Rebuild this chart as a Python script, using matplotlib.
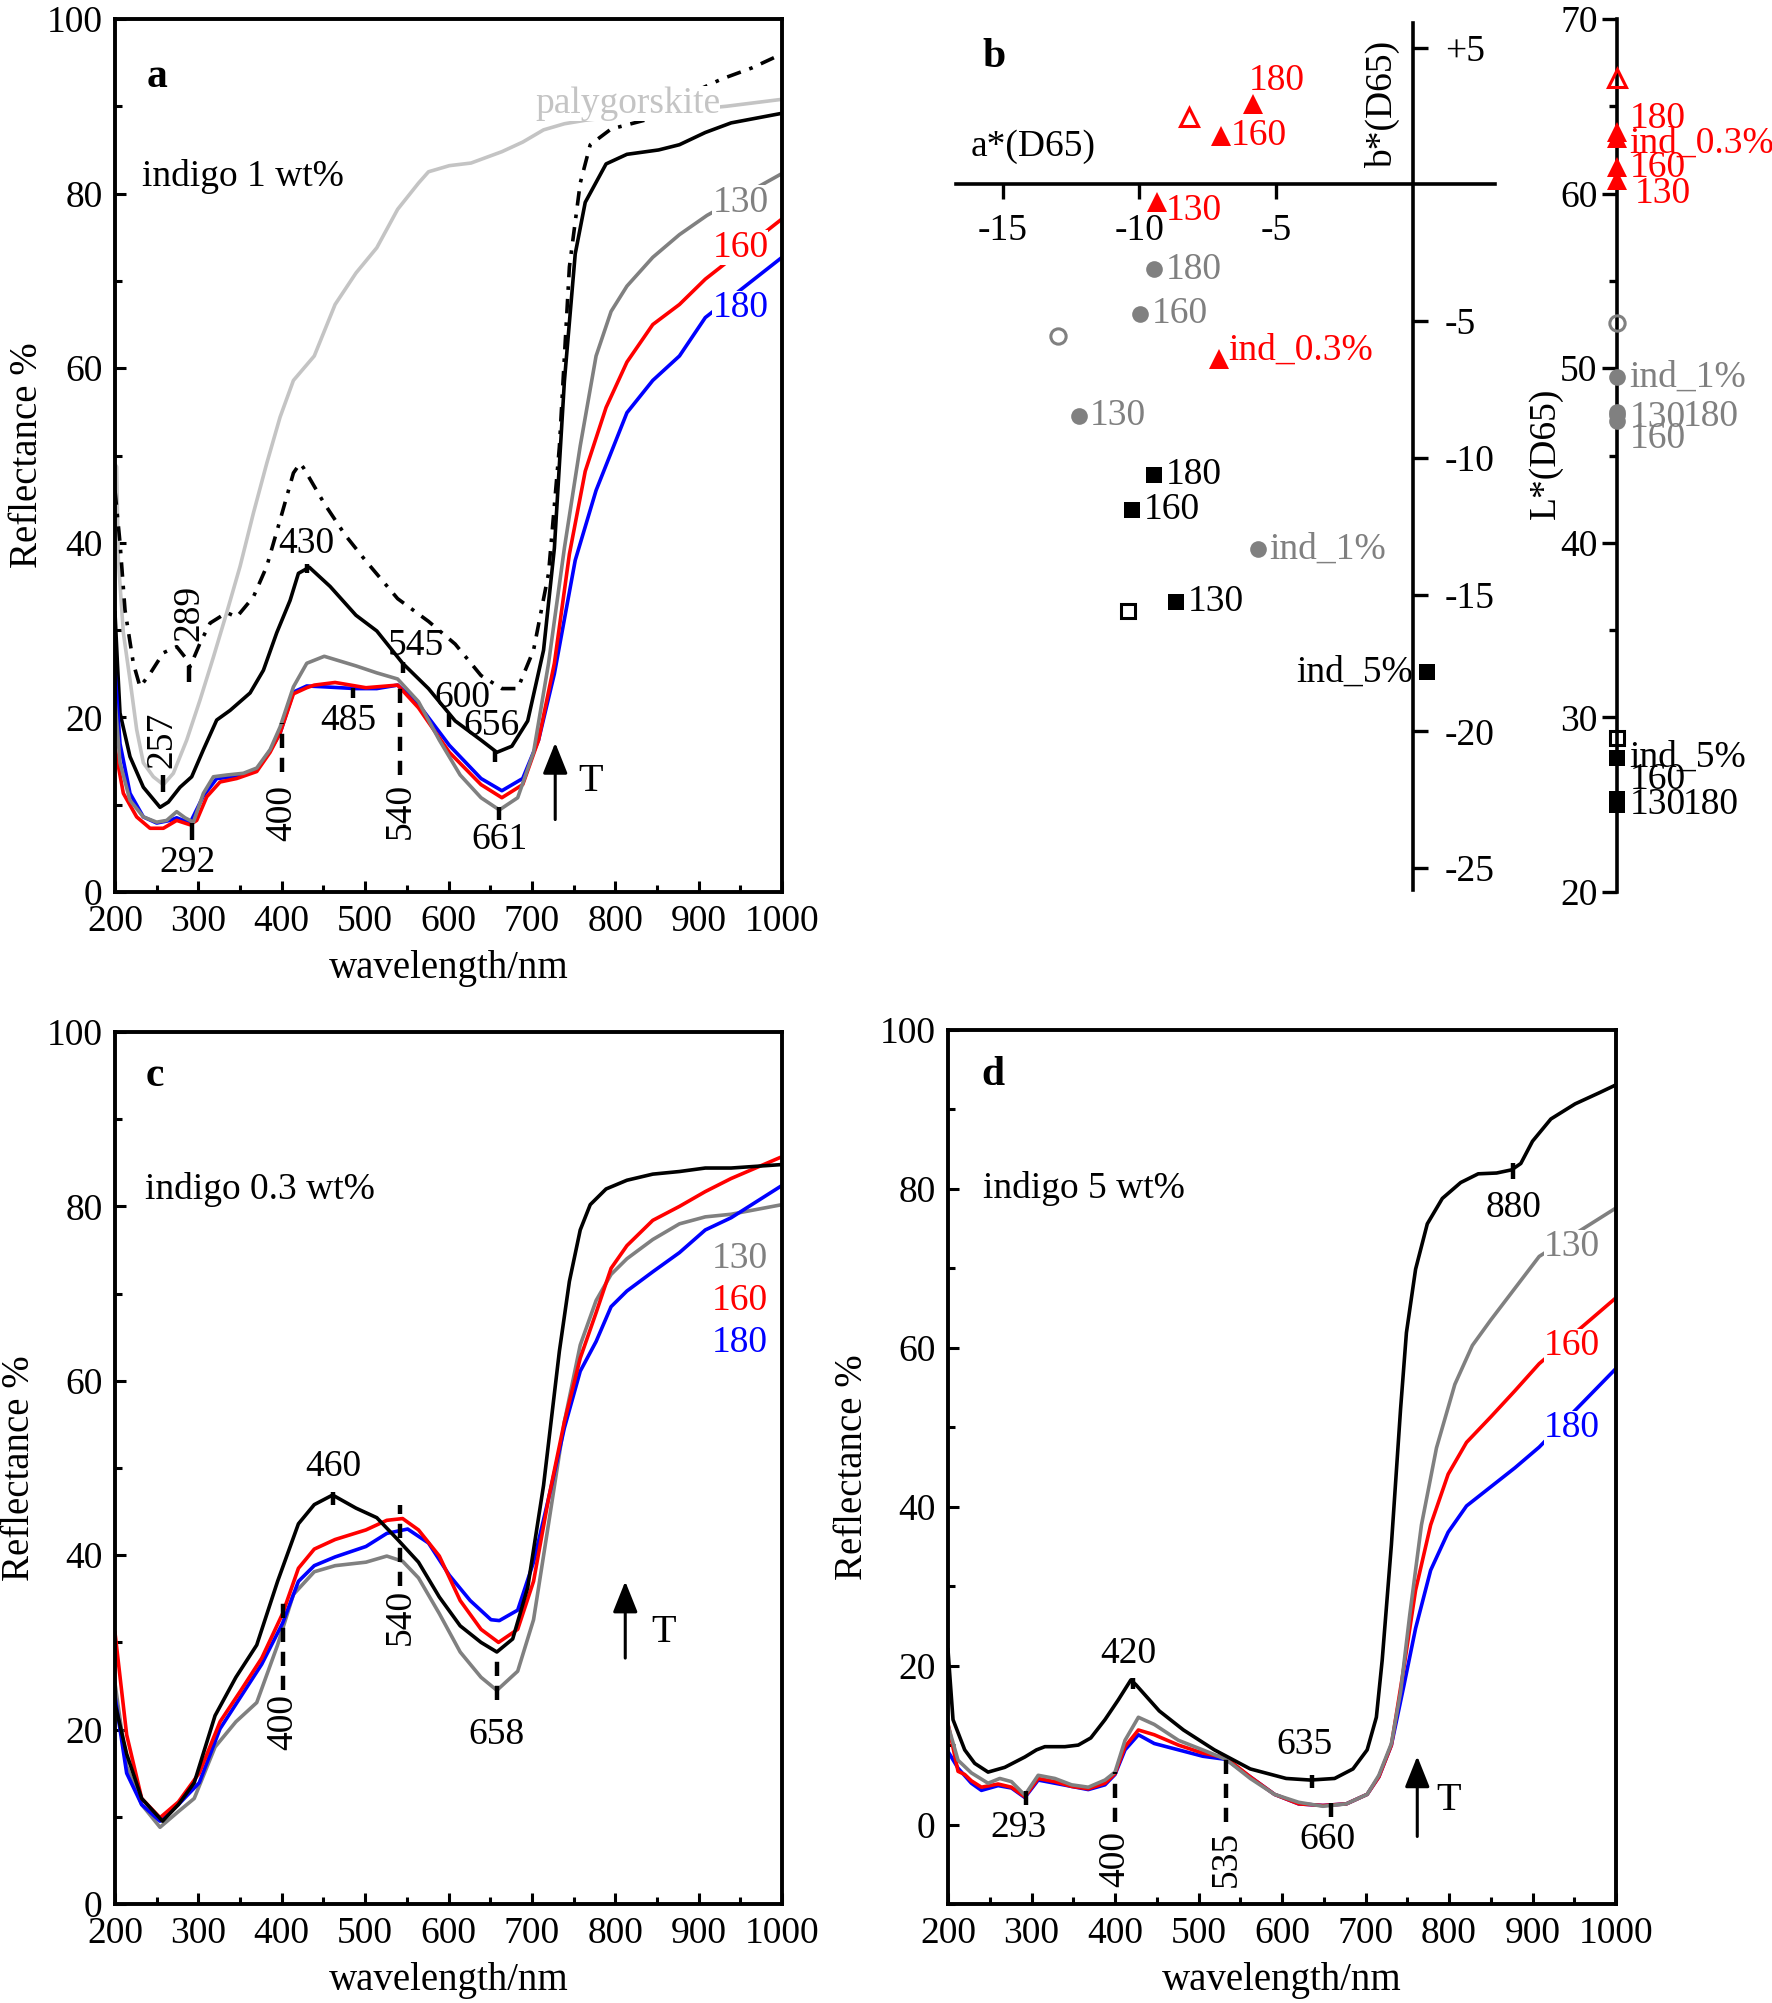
import matplotlib
matplotlib.use("Agg")
import matplotlib.pyplot as plt
from matplotlib.ticker import MultipleLocator, FixedLocator

plt.rcParams["font.family"] = ["Liberation Serif", "DejaVu Serif"]
FS = 27
GREY = "#808080"; LGREY = "#c4c4c4"; RED = "#ff0000"; BLUE = "#0000ff"; BLACK = "#000000"

# ---------------- panel a : indigo 1 wt% ----------------
pal_wl = [200, 202, 204, 210, 218, 226, 234, 246, 258, 270, 286, 302, 318, 334, 350, 366, 382, 398, 414, 439,
          464, 489, 514, 539, 564, 576, 601, 627, 664, 689, 714, 739, 764, 800, 850, 900, 933, 1000]
pal_val = [49.0, 48.7, 38.0, 29.7, 24.3, 18.6, 14.8, 13.2, 12.3, 13.6, 17.4, 22.0, 26.9, 32.0, 37.3, 43.4, 49.1,
           54.4, 58.6, 61.4, 67.3, 70.9, 73.8, 78.2, 81.2, 82.5, 83.2, 83.5, 84.8, 85.9, 87.3, 88.0, 88.4, 88.8,
           89.2, 89.7, 90.0, 90.8]
ind1_wl = [200, 206, 212, 222, 230, 242, 258, 274, 284, 290, 302, 314, 334, 346, 366, 382, 398, 414, 422, 426,
           451, 476, 501, 539, 576, 608, 639, 664, 683, 702, 720, 733, 745, 758, 770, 795, 839, 880, 927, 964, 1000]
ind1_val = [46, 40, 32.3, 26.2, 23.5, 25, 27.4, 28.1, 26.9, 25.8, 28.5, 30.8, 32, 31.5, 33.8, 37.3, 42.6, 48,
            49.1, 48.6, 44.5, 40.9, 37.9, 33.6, 31, 28.4, 24.8, 23.3, 23.3, 27.7, 36.5, 51, 71.6, 81.2, 85.6,
            87.4, 88.5, 91, 93.1, 94.4, 96]
a_blk_wl = [200, 203, 206, 218, 234, 254, 264, 278, 292, 306, 322, 338, 362, 378, 394, 410, 420, 433, 458, 489,
            514, 545, 576, 608, 639, 658, 676, 695, 714, 727, 739, 752, 764, 789, 814, 852, 877, 908, 939, 1000]
a_blk_val = [32, 26, 20.5, 15.5, 12, 9.7, 10.3, 12, 13.2, 16.3, 19.7, 20.8, 22.8, 25.4, 29.7, 33.4, 36.5, 37.2,
             35, 31.7, 29.9, 26.2, 23.3, 19.6, 17.4, 16, 16.7, 19.6, 27.7, 39.4, 58.5, 73.1, 79, 83.4, 84.5, 85,
             85.6, 87, 88.1, 89.2]
a_130_wl = [200, 206, 218, 234, 250, 262, 274, 284, 294, 306, 318, 334, 354, 370, 386, 398, 414, 430, 451, 489,
            514, 539, 564, 589, 614, 639, 661, 683, 702, 720, 739, 758, 777, 795, 814, 845, 877, 910, 1000]
a_130_val = [22, 14.8, 10.5, 8.6, 8, 8.2, 9.2, 8.5, 8, 11.3, 13.2, 13.4, 13.6, 14.2, 16.3, 18.9, 23.5, 26.2, 27,
             25.9, 25.1, 24.4, 21.8, 17.4, 13.4, 10.8, 9.4, 10.8, 16, 26.2, 39.4, 51.1, 61.4, 66.5, 69.4, 72.7,
             75.3, 77.5, 82.3]
a_160_wl = [200, 210, 226, 242, 258, 274, 290, 298, 310, 326, 346, 370, 386, 398, 414, 430, 439, 464, 501, 539,
            564, 601, 639, 664, 689, 708, 727, 745, 764, 789, 814, 845, 877, 908, 1000]
a_160_val = [16.5, 11.3, 8.6, 7.3, 7.3, 8.2, 7.7, 8.2, 10.9, 12.6, 13, 13.8, 16, 18.2, 22.7, 23.4, 23.7, 24, 23.4,
             23.7, 21.1, 16, 12.3, 10.8, 12.3, 17.4, 26.2, 38.7, 48.2, 55.5, 60.7, 65, 67.3, 70.2, 77.1]
a_180_wl = [200, 206, 218, 234, 250, 266, 274, 290, 306, 322, 346, 370, 386, 398, 414, 430, 451, 489, 514, 539,
            564, 601, 639, 664, 689, 708, 727, 752, 777, 814, 845, 877, 908, 1000]
a_180_val = [25.4, 17, 11.3, 8.6, 7.9, 8.2, 8.5, 7.9, 11, 13, 13.2, 14, 16.2, 18.2, 22.9, 23.6, 23.5, 23.3, 23.3,
             23.7, 21.5, 16.8, 13, 11.6, 13, 17.4, 25, 38, 46, 54.9, 58.6, 61.4, 65.8, 72.7]

# ---------------- panel c : indigo 0.3 wt% ----------------
c_blk_wl = [200, 214, 232, 257, 276, 295, 320, 345, 370, 395, 420, 439, 461, 489, 514, 539, 564, 589, 614, 639,
            658, 677, 695, 714, 733, 745, 758, 770, 789, 814, 845, 877, 908, 939, 1000]
c_blk_val = [23, 17.2, 12.1, 9.5, 11.4, 13.9, 21.6, 26, 29.7, 37, 43.6, 45.8, 46.9, 45.4, 44.3, 41.8, 39.2, 35.2,
             31.9, 30, 28.9, 30.4, 36.3, 48, 63.4, 71.4, 77.3, 80.2, 82, 83, 83.7, 84, 84.4, 84.4, 84.8]
c_160_wl = [200, 214, 232, 254, 276, 301, 326, 351, 376, 401, 420, 439, 464, 501, 526, 545, 564, 589, 614, 639,
            660, 683, 702, 720, 739, 758, 777, 795, 814, 845, 877, 908, 939, 1000]
c_160_val = [31.1, 19.4, 12.1, 9.9, 11.7, 15, 20.9, 24.5, 28.2, 33.3, 38.5, 40.7, 41.8, 42.9, 44, 44.2, 42.9, 39.9,
             34.8, 31.5, 30, 31.5, 37, 46.5, 55.3, 62.6, 67.8, 72.9, 75.5, 78.4, 80, 81.7, 83.2, 85.7]
c_180_wl = [200, 214, 232, 254, 276, 301, 326, 351, 376, 401, 420, 439, 464, 501, 526, 551, 576, 601, 626, 651,
            661, 683, 702, 720, 739, 758, 777, 795, 814, 845, 877, 908, 939, 1000]
c_180_val = [23.8, 15, 11.4, 9.5, 11.4, 13.9, 20.1, 23.8, 27.5, 32.2, 37, 38.8, 39.8, 41, 42.5, 43, 41.4, 37.7,
             34.8, 32.6, 32.5, 33.7, 39.2, 46.5, 54.6, 61.1, 64.5, 68.5, 70.3, 72.5, 74.7, 77.3, 78.7, 82.4]
c_130_wl = [200, 214, 232, 254, 276, 295, 320, 345, 370, 395, 414, 439, 464, 501, 526, 545, 564, 589, 614, 639,
            658, 683, 702, 720, 739, 758, 777, 795, 814, 845, 877, 908, 939, 1000]
c_130_val = [25.3, 15.8, 11.4, 8.8, 10.6, 12.1, 18, 20.9, 23.1, 29.7, 35.5, 38.1, 38.8, 39.2, 39.9, 39.3, 37.4,
             33.3, 28.9, 26, 24.5, 26.7, 32.6, 43.6, 55.3, 64.1, 69.2, 72.2, 74, 76.2, 78, 78.8, 79.1, 80.2]

# ---------------- panel d : indigo 5 wt% ----------------
d_blk_wl = [200, 202, 206, 220, 232, 248, 268, 292, 306, 316, 340, 356, 371, 388, 404, 419, 425, 453, 482, 519,
            562, 605, 634, 663, 685, 702, 713, 720, 731, 742, 749, 760, 774, 792, 814, 835, 857, 875, 886, 900,
            922, 951, 980, 1000]
d_blk_val = [22, 19, 13.2, 9.4, 7.7, 6.6, 7.2, 8.5, 9.4, 9.8, 9.8, 10, 10.9, 13.2, 15.7, 18.2, 17.6, 14.3, 11.9,
             9.4, 7, 5.8, 5.6, 5.8, 7, 9.4, 13.5, 20.7, 35.2, 52.3, 61.9, 69.9, 75.6, 78.8, 80.8, 81.9, 82, 82.4,
             83.2, 86, 88.8, 90.7, 92.1, 93.1]
d_130_wl = [200, 212, 228, 248, 262, 276, 292, 308, 328, 348, 368, 388, 400, 412, 428, 447, 476, 505, 533, 562,
            591, 620, 649, 677, 702, 716, 731, 742, 753, 767, 785, 807, 828, 850, 879, 908, 1000]
d_130_val = [12.5, 8.1, 6.5, 5.2, 5.8, 5.4, 3.7, 6.2, 5.8, 5, 4.7, 5.6, 6.6, 10.6, 13.5, 12.6, 10.6, 9.4, 8.2,
             5.8, 3.8, 2.8, 2.3, 2.6, 3.8, 6.2, 10.2, 16.7, 26.4, 37.7, 47.4, 55.4, 60.3, 63.5, 67.5, 71.5, 77.6]
d_160_wl = [200, 212, 220, 228, 240, 260, 276, 292, 308, 328, 348, 368, 388, 400, 412, 428, 447, 476, 505, 533,
            562, 591, 620, 649, 677, 702, 716, 731, 746, 760, 778, 799, 821, 850, 879, 908, 1000]
d_160_val = [12.7, 6.7, 6.3, 5.5, 4.7, 5.1, 4.7, 3.5, 5.8, 5.4, 4.8, 4.5, 5.2, 6.4, 9.8, 11.9, 11.3, 10, 9, 8.4,
             6, 3.8, 2.6, 2.4, 2.6, 3.8, 6, 10, 19.8, 29.5, 37.7, 44.1, 48.1, 51.3, 54.6, 58, 66.3]
d_180_wl = [200, 212, 228, 240, 260, 276, 292, 308, 348, 368, 388, 400, 412, 428, 447, 476, 505, 533, 562, 591,
            620, 649, 677, 702, 716, 731, 746, 760, 778, 799, 821, 850, 879, 908, 1000]
d_180_val = [9.2, 7.1, 5.2, 4.3, 4.9, 4.6, 3.4, 5.6, 4.8, 4.4, 5, 6.3, 9.4, 11.3, 10.2, 9.4, 8.6, 8.2, 6, 3.8,
             2.6, 2.4, 2.6, 3.8, 6, 10, 17.5, 24.7, 32, 36.8, 40.1, 42.5, 44.9, 47.5, 57.4]

# ---------------- panel b : CIELab ----------------
red_lab = ["180", "160", "130", "ind_0.3%"]
red_a = [-5.86, -7.03, -9.34, -7.07]
red_b = [2.93, 1.76, -0.66, -6.37]
red_open_ab = (-8.2, 2.45)
grey_lab = ["180", "160", "130", "ind_1%"]
grey_a = [-9.45, -9.96, -12.2, -5.67]
grey_b = [-3.11, -4.73, -8.46, -13.33]
grey_open_ab = (-12.97, -5.53)
blk_lab = ["180", "160", "130", "ind_5%"]
blk_a = [-9.45, -10.26, -8.65, 0.51]
blk_b = [-10.62, -11.9, -15.27, -17.84]
blk_open_ab = (-10.4, -15.6)
# L* values (same order as labels)
red_L = [63.5, 61.5, 60.8, 63.2]
red_open_L = 66.6
grey_L = [47.3, 47.0, 47.5, 49.5]
grey_open_L = 52.6
blk_L = [25.0, 25.3, 25.0, 27.7]
blk_open_L = 28.8

W, H = 1772, 2003
fig = plt.figure(figsize=(W / 100, H / 100), dpi=100)


def add_px(x0, y0, x1, y1):
    return fig.add_axes([x0 / W, 1 - y1 / H, (x1 - x0) / W, (y1 - y0) / H])


def style_spec(ax, ymin, ylab_x):
    ax.set_xlim(200, 1000)
    ax.set_ylim(ymin, 100)
    ax.xaxis.set_major_locator(MultipleLocator(100))
    ax.xaxis.set_minor_locator(MultipleLocator(50))
    ax.yaxis.set_major_locator(FixedLocator([0, 20, 40, 60, 80, 100]))
    ax.yaxis.set_minor_locator(MultipleLocator(10))
    ax.tick_params(which="both", direction="in", width=2.2, labelsize=FS, top=False, right=False)
    ax.tick_params(which="major", length=8, pad=9)
    ax.tick_params(which="minor", length=5)
    for s in ax.spines.values():
        s.set_linewidth(2.8)
    ax.set_xlabel("wavelength/nm", fontsize=FS + 1)
    ax.set_ylabel("Reflectance %", fontsize=FS + 1)
    ax.xaxis.set_label_coords(0.5, -0.066)
    ax.yaxis.set_label_coords(ylab_x, 0.5)


LW = 2.6
LBOX = dict(facecolor="white", edgecolor="none", pad=0)


def marks(ax, items):
    for x, y0, y1 in items:
        ax.plot([x, x], [y0, y1], color="k", lw=3.2, solid_capstyle="butt", zorder=5)


def dmarks(ax, items):
    for x, y0, y1 in items:
        ax.plot([x, x], [y0, y1], color="k", lw=3.2, ls=(0, (3.2, 2.2)), dash_capstyle="butt", zorder=5)


def texts(ax, items, rot=0):
    for x, y, s in items:
        ax.text(x, y, s, fontsize=FS, ha="center", va="center", rotation=rot, zorder=6)


def t_arrow(ax, x, y0, y1, tx, ty):
    ax.annotate("", xy=(x, y1), xytext=(x, y0),
                arrowprops=dict(arrowstyle="-|>,head_length=0.95,head_width=0.38", mutation_scale=20,
                                lw=2.2, color="k", shrinkA=0, shrinkB=0))
    ax.text(tx, ty, "T", fontsize=FS + 2, ha="center", va="center")


def temp_labels(ax, x, ys):
    for (y, s, c) in ys:
        ax.text(x, y, s, fontsize=FS, color=c, ha="center", va="center", bbox=LBOX, zorder=4)


# ===== panel a =====
axa = add_px(115, 19, 782, 892)
style_spec(axa, 0, -0.103)
axa.plot(pal_wl, pal_val, color=LGREY, lw=LW)
axa.plot(ind1_wl, ind1_val, color=BLACK, lw=LW, ls=(0, (4, 2.5, 1, 2.5)))
axa.plot(a_blk_wl, a_blk_val, color=BLACK, lw=LW)
axa.plot(a_180_wl, a_180_val, color=BLUE, lw=LW)
axa.plot(a_160_wl, a_160_val, color=RED, lw=LW)
axa.plot(a_130_wl, a_130_val, color=GREY, lw=LW)
marks(axa, [(257, 11.4, 13.4), (289, 24.0, 25.9), (292, 6.0, 7.9), (430, 36.5, 37.6), (485, 22.2, 23.4),
            (545, 25.1, 26.3), (600, 18.9, 20.4), (656, 14.9, 16.1), (661, 8.2, 9.7)])
dmarks(axa, [(400, 13.7, 19.4), (542, 13.4, 24.0)])
texts(axa, [(257, 17.4, "257"), (289, 32.0, "289"), (400, 9.0, "400"), (542, 9.3, "540")], rot=90)
texts(axa, [(287, 3.4, "292"), (430, 39.9, "430"), (480, 19.6, "485"), (561, 28.2, "545"), (617, 22.3, "600"),
            (652, 19.1, "656"), (661, 6.0, "661")])
t_arrow(axa, 728, 8.3, 17.1, 770, 12.7)
axa.text(251, 93.4, "a", fontsize=FS + 3, fontweight="bold", ha="center", va="center")
axa.text(232, 82, "indigo 1 wt%", fontsize=FS, ha="left", va="center")
axa.text(815, 90.3, "palygorskite", fontsize=FS, color=LGREY, ha="center", va="center", bbox=LBOX, zorder=4)
temp_labels(axa, 950, [(79.0, "130", GREY), (73.8, "160", RED), (66.9, "180", BLUE)])

# ===== panel c =====
axc = add_px(115, 1032, 782, 1904)
style_spec(axc, 0, -0.115)
axc.plot(c_130_wl, c_130_val, color=GREY, lw=LW)
axc.plot(c_180_wl, c_180_val, color=BLUE, lw=LW)
axc.plot(c_160_wl, c_160_val, color=RED, lw=LW)
axc.plot(c_blk_wl, c_blk_val, color=BLACK, lw=LW)
marks(axc, [(461, 45.8, 47.3)])
dmarks(axc, [(542, 36.5, 45.8), (401, 24.5, 35.2), (658, 23.4, 28.9)])
texts(axc, [(542, 32.9, "540"), (401, 20.9, "400")], rot=90)
texts(axc, [(462, 50.2, "460"), (658, 19.4, "658")])
t_arrow(axc, 812, 28.2, 37.0, 858, 31.1)
axc.text(248, 94.9, "c", fontsize=FS + 3, fontweight="bold", ha="center", va="center")
axc.text(236, 81.9, "indigo 0.3 wt%", fontsize=FS, ha="left", va="center")
temp_labels(axc, 949, [(74.0, "130", GREY), (69.2, "160", RED), (64.4, "180", BLUE)])

# ===== panel d =====
axd = add_px(948, 1030, 1616, 1904)
style_spec(axd, -10, -0.115)
axd.plot(d_180_wl, d_180_val, color=BLUE, lw=LW)
axd.plot(d_160_wl, d_160_val, color=RED, lw=LW)
axd.plot(d_130_wl, d_130_val, color=GREY, lw=LW)
axd.plot(d_blk_wl, d_blk_val, color=BLACK, lw=LW)
marks(axd, [(421, 17.1, 18.4), (294, 2.4, 4.2), (636, 4.6, 6.2), (659, 1.0, 2.7), (877, 81.2, 83.3)])
dmarks(axd, [(400, 0.3, 6.6), (533, 0.3, 8.6)])
texts(axd, [(400, -4.3, "400"), (533, -4.3, "535")], rot=90)
texts(axd, [(416, 21.5, "420"), (284, -0.4, "293"), (627, 10.0, "635"), (654, -1.9, "660"), (877, 77.6, "880")])
t_arrow(axd, 762, -1.5, 8.6, 800, 3.0)
axd.text(254, 94.3, "d", fontsize=FS + 3, fontweight="bold", ha="center", va="center")
axd.text(242, 80, "indigo 5 wt%", fontsize=FS, ha="left", va="center")
temp_labels(axd, 947, [(72.7, "130", GREY), (60.2, "160", RED), (49.9, "180", BLUE)])

# ===== panel b : a*, b* =====
axb = add_px(956, 23, 1495, 890)
axb.patch.set_alpha(0)
axb.set_xlim(-16.7, 3.0)
axb.set_ylim(-25.8, 5.9)
axb.spines["top"].set_visible(False)
axb.spines["left"].set_visible(False)
axb.spines["bottom"].set_position(("data", 0))
axb.spines["right"].set_position(("data", 0))
for s in ("bottom", "right"):
    axb.spines[s].set_linewidth(2.6)
axb.yaxis.tick_right()
axb.set_xticks([-15, -10, -5])
axb.set_xticklabels(["-15", "-10", "-5"])
axb.set_yticks([5, -5, -10, -15, -20, -25])
axb.set_yticklabels(["+5", "-5", "-10", "-15", "-20", "-25"])
axb.tick_params(direction="out", length=11, width=2.4, labelsize=FS)
axb.tick_params(axis="x", pad=10)
axb.tick_params(axis="y", pad=12)

MS = {"^": 14, "o": 12, "s": 11}
OPEN_MS = {"^": 13, "o": 11, "s": 10}


def scatter_group(ax, xs, ys, labels, color, marker, offsets, openpt):
    ax.plot(xs, ys, ls="none", marker=marker, ms=MS[marker], color=color, mec=color, mew=0, clip_on=False, zorder=5)
    ax.plot([openpt[0]], [openpt[1]], ls="none", marker=marker, ms=OPEN_MS[marker], mfc="none", mec=color,
            mew=2.2, clip_on=False, zorder=5)
    for x, y, s, (dx, dy, ha) in zip(xs, ys, labels, offsets):
        ax.annotate(s, (x, y), xytext=(dx, dy), textcoords="offset points", fontsize=FS, color=color,
                    ha=ha, va="center", zorder=6)


scatter_group(axb, red_a, red_b, red_lab, RED, "^",
              [(-3, 17, "left"), (7, 0, "left"), (6, -6, "left"), (6, 6, "left")], red_open_ab)
scatter_group(axb, grey_a, grey_b, grey_lab, GREY, "o",
              [(8, 0, "left"), (8, 0, "left"), (8, 0, "left"), (8, 0, "left")], grey_open_ab)
scatter_group(axb, blk_a, blk_b, blk_lab, BLACK, "s",
              [(8, 0, "left"), (8, 0, "left"), (8, 0, "left"), (-10, 0, "right")], blk_open_ab)
fig.text(971 / W, 1 - 147 / H, "a*(D65)", fontsize=FS, ha="left", va="center")
fig.text(1382 / W, 1 - 104 / H, "b*(D65)", fontsize=FS, ha="center", va="center", rotation=90)
fig.text(994 / W, 1 - 57 / H, "b", fontsize=FS + 3, fontweight="bold", ha="center", va="center")

# ===== panel b : L* axis =====
axl = add_px(1617, 19, 1717, 892)
axl.patch.set_alpha(0)
axl.set_xlim(0, 1)
axl.set_ylim(20, 70)
for s in ("top", "right", "bottom"):
    axl.spines[s].set_visible(False)
axl.spines["left"].set_linewidth(2.6)
axl.set_xticks([])
axl.yaxis.set_major_locator(MultipleLocator(10))
axl.yaxis.set_minor_locator(MultipleLocator(5))
axl.tick_params(axis="y", which="major", direction="out", length=11, width=2.4, labelsize=FS, pad=3)
axl.tick_params(axis="y", which="minor", direction="out", length=6, width=2.4)
fig.text(1546 / W, 1 - 453 / H, "L*(D65)", fontsize=FS, ha="center", va="center", rotation=90)


def lstar_group(ax, Ls, labels, color, marker, offsets, openL):
    ax.plot([0] * len(Ls), Ls, ls="none", marker=marker, ms=MS[marker], color=color, mew=0, clip_on=False,
            zorder=5)
    ax.plot([0], [openL], ls="none", marker=marker, ms=OPEN_MS[marker], mfc="none", mec=color, mew=2.2,
            clip_on=False, zorder=5)
    for y, s, (dx, dy) in zip(Ls, labels, offsets):
        ax.annotate(s, (0, y), xytext=(dx, dy), textcoords="offset points", fontsize=FS, color=color,
                    ha="left", va="center", zorder=6)


lstar_group(axl, red_L, red_lab, RED, "^", [(9, 10), (9, 0), (13, -10), (9, -4)], red_open_L)
lstar_group(axl, grey_L, grey_lab, GREY, "o", [(47, -1), (9, -13), (9, -4), (9, 0)], grey_open_L)
lstar_group(axl, blk_L, blk_lab, BLACK, "s", [(47, 0), (9, 14), (9, 0), (9, 0)], blk_open_L)

fig.savefig("out.png", dpi=100)
